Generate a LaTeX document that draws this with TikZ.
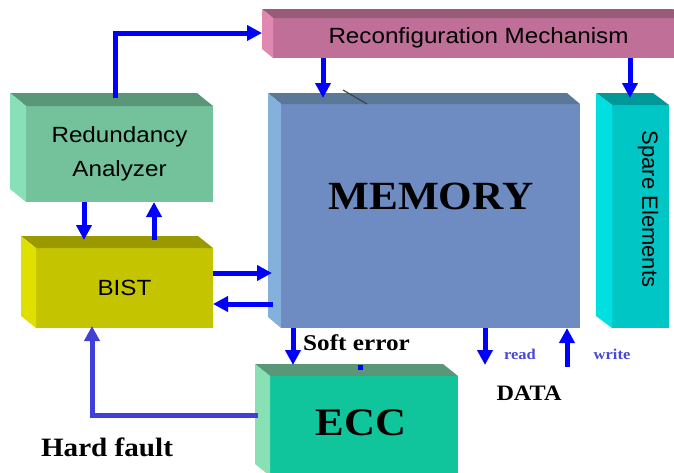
\documentclass[tikz,border=0pt]{standalone}
\usepackage{fontspec}
\setmainfont{Liberation Serif}
\newfontfamily\arialf{Liberation Sans}
\usetikzlibrary{arrows.meta,calc}
\definecolor{rcF}{HTML}{C07098}\definecolor{rcT}{HTML}{985C78}\definecolor{rcL}{HTML}{E088B0}
\definecolor{meF}{HTML}{6E8CC2}\definecolor{meT}{HTML}{5C7898}\definecolor{meL}{HTML}{84B0DC}
\definecolor{spF}{HTML}{00C6C6}\definecolor{spT}{HTML}{009898}\definecolor{spL}{HTML}{00E0E0}
\definecolor{raF}{HTML}{74C29C}\definecolor{raT}{HTML}{5A9678}\definecolor{raL}{HTML}{88E0B8}
\definecolor{biF}{HTML}{C4C400}\definecolor{biT}{HTML}{9A9A00}\definecolor{biL}{HTML}{E0E000}
\definecolor{ecF}{HTML}{10C49C}\definecolor{ecT}{HTML}{5A9678}\definecolor{ecL}{HTML}{88E0B4}
\definecolor{arrblue}{HTML}{0000FF}
\definecolor{hfblue}{HTML}{4040D8}
\definecolor{rwblue}{HTML}{4848D8}
\newcommand{\sx}[1]{\scalebox{1.1}[1]{#1}}
\newcommand{\boxfaces}[5]{%
 \fill[#4] (#1.north west) -- ++(-#2,-#3) -- ($(#1.north east)+(-#2,-#3)$) -- (#1.north east) -- cycle;
 \fill[#5] (#1.north west) -- ++(-#2,-#3) -- ($(#1.south west)+(-#2,-#3)$) -- (#1.south west) -- cycle;}
\tikzset{
 box/.style={rectangle, inner sep=0pt, outer sep=0pt, draw=none, align=center},
 sanslbl/.style={font=\arialf\fontsize{22}{34}\selectfont, text=black},
 arr/.style={draw=arrblue, line width=5pt, -{Triangle[length=15pt,width=15pt]}},
 hf/.style={draw=hfblue, line width=5pt, -{Triangle[length=15pt,width=15pt]}},
 serlbl/.style={inner sep=0pt, text=black},
}
\begin{document}
\begin{tikzpicture}[x=1pt,y=-1pt]
\useasboundingbox (0,0) rectangle (674,472);
\clip (0,0) rectangle (674,472);
% front faces
\node[box, fill=rcF, minimum width=411pt, minimum height=40pt, sanslbl] (reconf) at (478.5,38) {\sx{Reconfiguration Mechanism}};
\node[box, fill=meF, minimum width=299pt, minimum height=224pt] (mem) at (430.5,216) {};
\node[box, fill=spF, minimum width=57pt, minimum height=223pt] (spare) at (640.5,216.5) {};
\node[box, fill=raF, minimum width=187pt, minimum height=96pt, sanslbl] (red) at (119.5,154) {\sx{Redundancy}\\[0pt]\sx{Analyzer}};
\node[box, fill=biF, minimum width=177pt, minimum height=80pt, sanslbl] (bist) at (124.5,288) {\sx{BIST}};
\node[box, fill=ecF, minimum width=188pt, minimum height=100pt] (ecc) at (364,426) {};
% 3D faces
\boxfaces{reconf}{11}{9}{rcT}{rcL}
\boxfaces{mem}{13}{11}{meT}{meL}
\boxfaces{spare}{16}{12}{spT}{spL}
\boxfaces{red}{16}{13}{raT}{raL}
\boxfaces{bist}{15}{12}{biT}{biL}
\boxfaces{ecc}{15}{12}{ecT}{ecL}
% stray marks
\draw[line width=1.1pt, black!75] ($(mem.north west)+(62,-14)$) -- ($(mem.north west)+(86,0)$);
\fill[arrblue] ($(ecc.north west)+(88,-11)$) rectangle ++(5,5);
% texts
\node[serlbl, font=\bfseries\fontsize{40}{40}\selectfont] (memtxt) at (431,196) {\scalebox{1.08}[1]{MEMORY}};
\node[serlbl, font=\bfseries\fontsize{39}{39}\selectfont] (ecctxt) at (361,423) {\sx{ECC}};
\node[sanslbl, rotate=-90, inner sep=0pt] (sparetxt) at (648,209) {Spare Elements};
\node[serlbl, font=\bfseries\fontsize{22.5}{24}\selectfont, anchor=west] (softtxt) at (303,343) {\scalebox{1.12}[1]{Soft error}};
\node[serlbl, font=\bfseries\fontsize{22}{24}\selectfont] (datatxt) at (529,393) {\sx{DATA}};
\node[serlbl, font=\bfseries\fontsize{26.5}{28}\selectfont] (hardtxt) at (107,447) {\sx{Hard fault}};
\node[serlbl, text=rwblue, font=\bfseries\fontsize{15}{16}\selectfont] (readtxt) at (520,354) {\sx{read}};
\node[serlbl, text=rwblue, font=\bfseries\fontsize{15}{16}\selectfont] (writetxt) at (612,354) {\sx{write}};
% connector end points
\coordinate (readend) at ($(mem.south west)+(204,37)$);
\coordinate (writestart) at ($(mem.south west)+(286,39)$);
% arrows
\draw[arr] ($(red.north west)+(89,-8)$) |- ($(reconf.west)+(-11,-5)$);
\draw[arr] ($(reconf.south west)+(50,0)$) -- ($(mem.north west)+(42,-6)$);
\draw[arr] ($(reconf.south west)+(357,0)$) -- ($(spare.north west)+(18,-7)$);
\draw[arr] ($(red.south west)+(58,0)$) -- ($(bist.north west)+(48,-8)$);
\draw[arr] ($(bist.north west)+(118,-8)$) -- ($(red.south west)+(128,0)$);
\draw[arr] ($(bist.east)+(0,-15)$) -- ($(mem.west)+(-9,57)$);
\draw[arr] ($(mem.west)+(-8,88)$) -- ($(bist.east)+(0,16)$);
\draw[arr] ($(mem.south west)+(12,0)$) -- ($(ecc.north west)+(23,-11)$);
\draw[arr] ($(mem.south west)+(204,0)$) -- (readend);
\draw[arr] (writestart) -- ($(mem.south west)+(286,0)$);
\draw[hf] ($(ecc.west)+(-12,-11)$) -| ($(bist.south west)+(56,-2)$);
\end{tikzpicture}
\end{document}
